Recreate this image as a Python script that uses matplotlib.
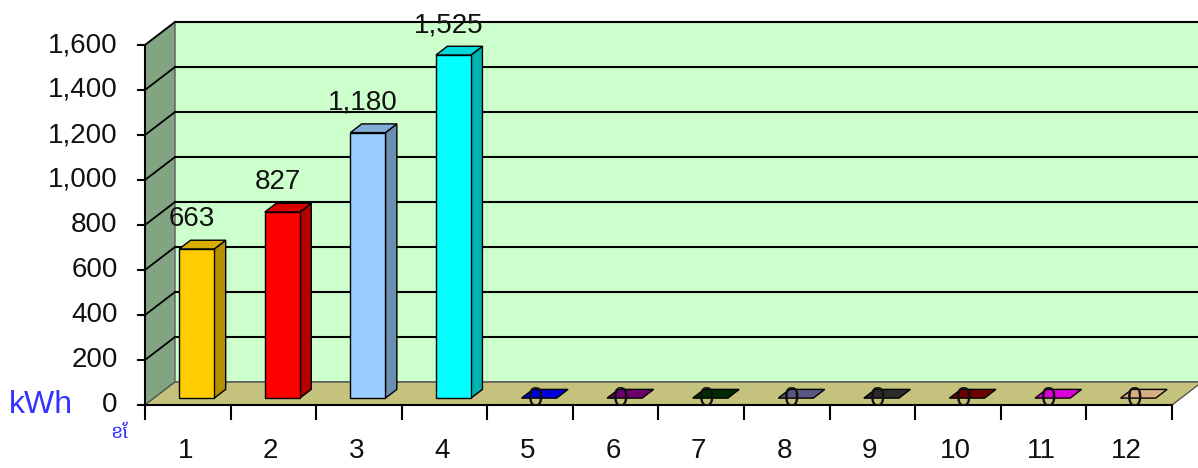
import matplotlib.pyplot as plt
from matplotlib.patches import Polygon
from matplotlib import font_manager
import matplotlib.colors as mcolors

# Data
months = [1, 2, 3, 4, 5, 6, 7, 8, 9, 10, 11, 12]
kwh = [663, 827, 1180, 1525, 0, 0, 0, 0, 0, 0, 0, 0]
bar_colors = ['#ffcc00', '#ff0000', '#99ccff', '#00ffff', '#0000ff', '#800080',
              '#003300', '#666699', '#333333', '#800000', '#ff00ff', '#ffcc99']
y_ticks = [0, 200, 400, 600, 800, 1000, 1200, 1400, 1600]

plt.rcParams['font.family'] = ['Liberation Sans', 'DejaVu Sans']

# pick a Khmer-capable font if one is around
installed = {f.name for f in font_manager.fontManager.ttflist}
khmer_fams = [f for f in ['Noto Sans Khmer', 'Noto Serif Khmer', 'Khmer OS', 'Khmer OS System']
              if f in installed] + ['DejaVu Sans']

fig = plt.figure(figsize=(11.98, 4.68), dpi=100)
ax = fig.add_axes([0, 0, 1, 1])
ax.set_xlim(-1.194, 12.804)
ax.set_ylim(-280, 1800)
ax.axis('off')

# 3D depth vector (in data units)
DX, DY = 0.35, 102
x0, x1 = 0.5, 12.5
ymax = 1600


def shade(c, f):
    r, g, b = mcolors.to_rgb(c)
    return (r * f, g * f, b * f)


# walls and floor
ax.add_patch(Polygon([(x0, 0), (x0, ymax), (x0 + DX, ymax + DY), (x0 + DX, DY)],
                     closed=True, fc='#82a482', ec='#707070', lw=1.2, zorder=1))
ax.add_patch(Polygon([(x0 + DX, DY), (x0 + DX, ymax + DY), (x1 + DX, ymax + DY), (x1 + DX, DY)],
                     closed=True, fc='#ccffcc', ec='#707070', lw=1.2, zorder=1))
for v in y_ticks[1:]:
    ax.plot([x0 + DX, x1 + DX], [v + DY, v + DY], color='black', lw=1.5, zorder=2)
    ax.plot([x0, x0 + DX], [v, v + DY], color='black', lw=1.3, zorder=2)
ax.add_patch(Polygon([(x0, 0), (x1, 0), (x1 + DX, DY), (x0 + DX, DY)],
                     closed=True, fc='#c4c27c', ec='#555555', lw=1.0, zorder=3))

# axes lines and ticks
ax.plot([x0, x0], [0, ymax], color='black', lw=1.5, zorder=4)
ax.plot([x0, x1], [0, 0], color='black', lw=1.5, zorder=4)
for v in y_ticks:
    ax.plot([x0 - 0.08, x0], [v, v], color='black', lw=1.5, zorder=4)
    ax.text(x0 - 0.32, v, f'{v:,}', ha='right', va='center', fontsize=20, color='#111111')
for k in range(13):
    ax.plot([x0 + k, x0 + k], [0, -60], color='black', lw=1.5, zorder=4)
for m in months:
    ax.text(m - 0.03, -205, str(m), ha='center', va='center', fontsize=20, color='#111111')

ax.text(-0.72, 0, 'kWh', ha='center', va='center', fontsize=23, color='#3333ff')
ax.text(0.2, -125, 'ខែ', ha='center', va='center', fontsize=14, color='#3333ff',
        fontweight='bold', family=khmer_fams)

# bars
d0, d1 = 0.3, 0.68
w = 0.205
for m, v, c in zip(months, kwh, bar_colors):
    fx0, fx1 = m - w + d0 * DX, m + w + d0 * DX
    bx0, bx1 = m - w + d1 * DX, m + w + d1 * DX
    fy, by = d0 * DY, d1 * DY
    if v > 0:
        ax.add_patch(Polygon([(fx1, fy), (bx1, by), (bx1, by + v), (fx1, fy + v)],
                             closed=True, fc=shade(c, 0.7), ec='black', lw=1, zorder=5))
        ax.add_patch(Polygon([(fx0, fy), (fx1, fy), (fx1, fy + v), (fx0, fy + v)],
                             closed=True, fc=c, ec='black', lw=1, zorder=5))
    ax.add_patch(Polygon([(fx0, fy + v), (fx1, fy + v), (bx1, by + v), (bx0, by + v)],
                         closed=True, fc=shade(c, 0.85), ec='black', lw=1, zorder=5))
    if v > 0:
        ax.text(m + 0.05, v + 105, f'{v:,}', ha='center', va='bottom', fontsize=20,
                color='#111111', zorder=6)
    else:
        ax.text(m + 0.06, 27, '0', ha='center', va='center', fontsize=20,
                color='#111111', zorder=6)

plt.savefig('out.png', dpi=100)
